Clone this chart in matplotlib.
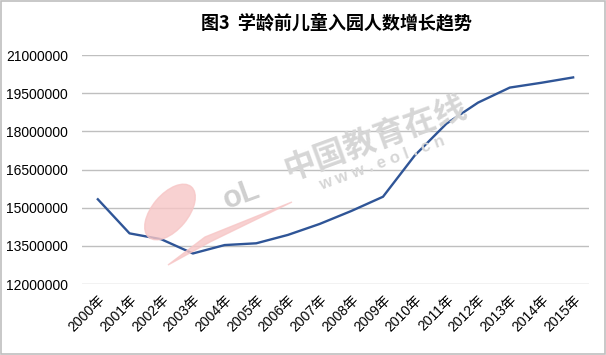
import matplotlib.pyplot as plt
from matplotlib.patches import Rectangle, Ellipse, Polygon
from matplotlib.transforms import IdentityTransform

years = ["2000年", "2001年", "2002年", "2003年", "2004年", "2005年", "2006年", "2007年",
         "2008年", "2009年", "2010年", "2011年", "2012年", "2013年", "2014年", "2015年"]
enrolment = [15330000, 13990000, 13760000, 13200000, 13530000, 13600000, 13930000, 14360000,
             14870000, 15430000, 17050000, 18300000, 19130000, 19720000, 19910000, 20120000]
y_ticks = [12000000, 13500000, 15000000, 16500000, 18000000, 19500000, 21000000]

plt.rcParams['font.family'] = ['Liberation Sans', 'Noto Sans CJK SC', 'DejaVu Sans']

fig = plt.figure(figsize=(6.06, 3.55), dpi=100)
ax = fig.add_axes([0.1353, 0.2, 0.8366, 0.645])

x = list(range(len(years)))
ax.plot(x, enrolment, color='#2F5597', linewidth=1.7, zorder=3)

ax.set_xlim(-0.5, len(years) - 0.5)
ax.set_ylim(y_ticks[0], y_ticks[-1])
ax.set_yticks(y_ticks)
ax.set_yticklabels([str(v) for v in y_ticks], fontsize=10)
ax.set_xticks(x)
ax.set_xticklabels(years, fontsize=10, rotation=45, ha='right', rotation_mode='anchor')
ax.tick_params(axis='both', length=0, pad=10)
ax.tick_params(axis='x', pad=6)
ax.grid(axis='y', color='#BFBFBF', linewidth=1)
ax.set_axisbelow(True)
for s in ax.spines.values():
    s.set_visible(False)

# watermark (eol logo + site name), drawn in pixel coords
px = IdentityTransform()
fig.patches.append(Ellipse((170, 143), 66, 36, angle=50, transform=px,
                           color='#F7C6C6', alpha=0.8, zorder=0))
fig.patches.append(Polygon([(168, 90), (205, 118), (292, 153), (210, 113)], transform=px,
                           color='#F7C6C6', alpha=0.8, zorder=0))
fig.text(0.398, 0.45, "oL", fontsize=22, color='#CFCFCF', rotation=20, fontweight='bold',
         ha='center', va='center', zorder=0)
fig.text(0.62, 0.61, "中国教育在线", fontsize=23, color='#D6D6D6', rotation=20,
         ha='center', va='center', fontweight='bold', family=['Noto Sans CJK SC'], zorder=0)
fig.text(0.63, 0.542, "w w w . e o l . c n", fontsize=12, color='#D6D6D6', rotation=20,
         ha='center', va='center', fontweight='bold', zorder=0)

fig.text(0.555, 0.935, "图3  学龄前儿童入园人数增长趋势", fontsize=13, fontweight='bold',
         ha='center', va='center', family=['Noto Sans CJK SC', 'DejaVu Sans'])

fig.patches.append(Rectangle((0.001, 0.002), 0.997, 0.995, transform=fig.transFigure,
                             fill=False, edgecolor='#BFBFBF', linewidth=1.2))

fig.savefig("out.png", dpi=100)
